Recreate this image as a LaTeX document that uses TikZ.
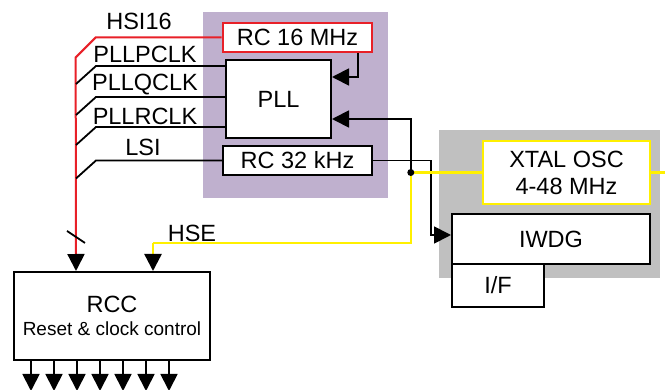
\documentclass[tikz,border=0pt]{standalone}
\usepackage{fontspec}
\setmainfont{Liberation Sans}
\usepackage{xcolor}
\usetikzlibrary{positioning,arrows.meta,calc}
\definecolor{purplebg}{RGB}{191,176,206}
\definecolor{graybg}{RGB}{192,192,192}
\definecolor{hsired}{RGB}{232,32,40}
\definecolor{hseyel}{RGB}{255,240,0}

\begin{document}
\begin{tikzpicture}[x=1pt,y=-1pt,
  blk/.style={draw,line width=2pt,fill=white,inner sep=0pt,font=\fontsize{23.5}{27}\selectfont},
  lbl/.style={inner sep=0pt,font=\fontsize{23.5}{27}\selectfont},
  wire/.style={line width=1.8pt},
  arr/.style={wire,-{Triangle[length=17pt,width=17pt]}},
  hsi/.style={line width=2pt,hsired,-{Triangle[length=17pt,width=17pt,color=black]}},
  hse/.style={line width=2.4pt,hseyel}]
  \useasboundingbox (0,0) rectangle (665,390);
  % backgrounds
  \fill[purplebg] (203,12) rectangle (388,198);
  \fill[graybg] (439,130) rectangle (660,278);
  % blocks
  \node[blk,draw=hsired,line width=2.7pt,minimum width=149,minimum height=29] (rcsixteen) at (297.5,37.5) {RC 16 MHz};
  \node[blk,minimum width=105,minimum height=78] (pll) at (278.5,99) {PLL};
  \node[blk,minimum width=149,minimum height=29] (rcthirtytwo) at (297.5,160.5) {RC 32 kHz};
  \node[blk,draw=hseyel,line width=2.4pt,minimum width=167,minimum height=63,align=center] (xtal) at (566.5,172.5) {XTAL OSC\\4-48 MHz};
  \node[blk,minimum width=198,minimum height=50] (iwdg) at (551,239) {IWDG};
  \node[blk,minimum width=92,minimum height=43] (iff) at (498,285.5) {I/F};
  \node[blk,minimum width=196,minimum height=88,align=center,font=\fontsize{23.5}{23}\selectfont] (rcc) at (112,316)
    {RCC\\{\fontsize{19}{23}\selectfont Reset \& clock control}};
  % RCC inputs
  \coordinate (rccin1) at ($(rcc.north west)+(63,0)$);
  \coordinate (rccin2) at ($(rcc.north west)+(140,0)$);
  \coordinate (hsej) at ($(xtal.west)+(-71,0)$);
  % HSI16 (red bus)
  \draw[hsi] (rcsixteen.west) -- ++(-126,0) -- ++(-20,20) -- (rccin1);
  \draw[wire] ($(rccin1)+(-9,-40)$) -- ++(18,12);
  % PLL outputs and LSI
  \foreach \dy in {7,38,68}
    \draw[wire] ($(pll.north west)+(0,\dy)$) -- ++(-129,0) -- ++(-20,18);
  \draw[wire] (rcthirtytwo.west) -- ++(-126,0) -- ++(-20,18);
  \node[lbl] (hsilbl) at (139,21) {HSI16};
  \node[lbl] (pllplbl) at (145,54) {PLLPCLK};
  \node[lbl] (pllqlbl) at (145,85) {PLLQCLK};
  \node[lbl] (pllrlbl) at (145,116) {PLLRCLK};
  \node[lbl] (lsilbl) at (143,147) {LSI};
  % PLL inputs
  \draw[arr] ($(rcsixteen.south east)+(-15,0)$) |- ($(pll.north east)+(0,18)$);
  \draw[arr] (hsej) |- ($(pll.north east)+(0,60)$);
  % LSI to IWDG
  \draw[arr] (rcthirtytwo.east) -- ++(58,0) |- ($(iwdg.west)+(0,-4)$);
  % HSE (yellow)
  \draw[hse] (xtal.west) -- (hsej) |- ($(rccin2)+(0,-28)$);
  \draw[hse,-{Triangle[length=17pt,width=17pt,color=black]}] ($(rccin2)+(0,-28)$) -- (rccin2);
  \draw[hse] (xtal.east) -- ++(15,0);
  \fill (hsej) circle (3.5);
  \node[lbl] (hselbl) at (192,233) {HSE};
  % RCC outputs
  \foreach \i in {0,...,6}
    \draw[arr] ($(rcc.south west)+(18+23*\i,0)$) -- ++(0,30);
\end{tikzpicture}
\end{document}
